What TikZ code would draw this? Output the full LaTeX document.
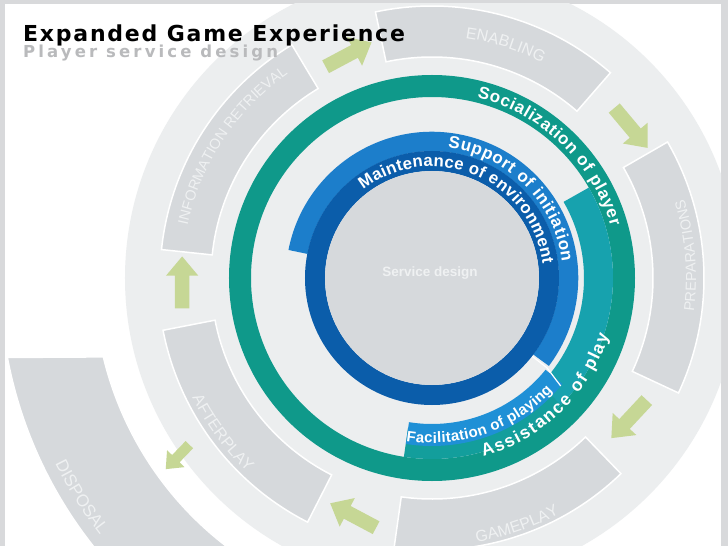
\documentclass[tikz,border=0pt]{standalone}
\usepackage{fontspec}
\setmainfont{Liberation Sans}
\newfontfamily\titlefont[LetterSpace=8]{DejaVu Sans}
\newfontfamily\subtitlefont[LetterSpace=19]{DejaVu Sans}
\usetikzlibrary{shapes.arrows, decorations.text}

\definecolor{framegray}{HTML}{D8D9DB}
\definecolor{pale}{HTML}{ECEEEF}
\definecolor{boxgray}{HTML}{D6D9DC}
\definecolor{segtext}{HTML}{EFF1F2}
\definecolor{tealring}{HTML}{0F998A}
\definecolor{cyanband}{HTML}{17A2AE}
\definecolor{cyanlow}{HTML}{139E9C}
\definecolor{midblue}{HTML}{1C7ECB}
\definecolor{facblue}{HTML}{1F90D6}
\definecolor{darkblue}{HTML}{0B5DAA}
\definecolor{arrowgreen}{HTML}{C6D795}
\definecolor{subgray}{HTML}{B9BABC}

\begin{document}
\begin{tikzpicture}[x=1pt, y=1pt,
        segment/.style={fill=boxgray, draw=white, line width=1.5pt},
        garrow/.style={single arrow, fill=arrowgreen, inner sep=7pt, minimum height=52pt, single arrow head extend=9pt, single arrow tip angle=80},
        ringtext/.style={decorate, decoration={text along path, text align=fit to path, text color=white}},
        seglabel/.style={decorate, decoration={text along path, text align=center, text color=segtext}}]

        \useasboundingbox (-432,-268) rectangle (296,278);
        \fill[framegray] (-432,-268) rectangle (296,278);
        \fill[white] (-427,-268) rectangle (289,274);

        \begin{scope}
        \clip (-427,-268) rectangle (289,274);
        % outer ring of phases
        \fill[pale] (0,0) circle[radius=307];
        \draw[segment] (193.5:338) arc[start angle=193.5, end angle=240, radius=338] -- (240:432) arc[start angle=240, end angle=190.6, radius=432] -- cycle;
        \draw[segment] (49:221) arc[start angle=49, end angle=102, radius=221] -- (102:272) arc[start angle=102, end angle=49, radius=272] -- cycle;
        \draw[segment] (121:221) arc[start angle=121, end angle=174, radius=221] -- (174:272) arc[start angle=174, end angle=121, radius=272] -- cycle;
        \draw[segment] (-25:221) arc[start angle=-25, end angle=30, radius=221] -- (30:272) arc[start angle=30, end angle=-25, radius=272] -- cycle;
        \draw[segment] (-98:221) arc[start angle=-98, end angle=-46, radius=221] -- (-46:272) arc[start angle=-46, end angle=-98, radius=272] -- cycle;
        \draw[segment] (-169:221) arc[start angle=-169, end angle=-117, radius=221] -- (-117:274) arc[start angle=-117, end angle=-169, radius=274] -- cycle;

        \path[seglabel, decoration={text={|\fontsize{16}{16}\selectfont|ENABLING}}] (100:242) arc[start angle=100, end angle=45, radius=242];
        \path[seglabel, decoration={text={|\fontsize{14.5}{14.5}\selectfont|INFORMATION RETRIEVAL}}] (178:250) arc[start angle=178, end angle=115, radius=250];
        \path[seglabel, decoration={text={|\fontsize{14.5}{14.5}\selectfont|PREPARATIONS}}] (-30:264) arc[start angle=-30, end angle=40, radius=264];
        \path[seglabel, decoration={text={|\fontsize{16}{16}\selectfont|GAMEPLAY}}] (-101:268) arc[start angle=-101, end angle=-41, radius=268];
        \path[seglabel, decoration={text={|\fontsize{16}{16}\selectfont|AFTERPLAY}}] (-173:268) arc[start angle=-173, end angle=-114, radius=268];
        \path[seglabel, decoration={text={|\fontsize{17}{17}\selectfont|DISPOSAL}}] (-168:420) arc[start angle=-168, end angle=-128, radius=420];

        \node[garrow, rotate=28] (toenabling) at (111.5:238) {};
        \node[garrow, rotate=-50] (toprep) at (38:249) {};
        \node[garrow, rotate=-133] (togameplay) at (-34.6:243) {};
        \node[garrow, rotate=152] (toafterplay) at (-107.4:251) {};
        \node[garrow, rotate=90] (toinfo) at (-178:250) {};
        \node[garrow, rotate=-134, minimum height=34pt, inner sep=5pt, single arrow head extend=7pt] (todisposal) at (-145:308) {};
        \end{scope}

        % service rings
        \draw[tealring, line width=22pt] (0,0) circle[radius=192];
        \draw[cyanband, line width=29pt] (30:166.5) arc[start angle=30, end angle=-45, radius=166.5];
        \draw[cyanlow, line width=29pt] (-44.5:166.5) arc[start angle=-44.5, end angle=-99, radius=166.5];
        \draw[midblue, line width=19.5pt] (169:136.5) arc[start angle=169, end angle=-37, radius=136.5];
        \draw[facblue, line width=22pt] (-39:157) arc[start angle=-39, end angle=-99, radius=157];
        \draw[white, line width=1.2pt] (-38:127) -- (-38:146) -- (-40:168);
        \draw[darkblue, line width=20pt] (0,0) circle[radius=117];
        \fill[boxgray] (0,0) circle[radius=107];
        \node[text=segtext, font=\bfseries\fontsize{13.5}{13.5}\selectfont] (core) at (-2,5) {Service design};

        \path[ringtext, decoration={text={|\fontsize{17}{17}\bfseries|Socialization of player}}] (76:186) arc[start angle=76, end angle=16, radius=186];
        \path[ringtext, decoration={text={|\fontsize{17}{17}\bfseries|Support of initiation}}] (83:131) arc[start angle=83, end angle=7, radius=131];
        \path[ringtext, decoration={text={|\fontsize{16.8}{16.8}\bfseries|Maintenance of environment}}] (128:111.5) arc[start angle=128, end angle=7, radius=111.5];
        \path[ringtext, decoration={text={|\fontsize{15}{15}\bfseries|Facilitation of playing}}] (-99:165) arc[start angle=-99, end angle=-43, radius=165];
        \path[ringtext, decoration={text={|\fontsize{17.5}{17.5}\bfseries|Assistance of play}}] (-74:186) arc[start angle=-74, end angle=-18, radius=186];

        % heading
        \node[anchor=base west, inner sep=0pt, text=subgray, font=\subtitlefont\bfseries\fontsize{16.5}{16.5}\selectfont] (subtitle) at (-409,220) {Player service design};
        \node[anchor=base west, inner sep=0pt, font=\titlefont\bfseries\fontsize{22}{22}\selectfont] (title) at (-409,236) {Expanded Game Experience};

    \end{tikzpicture}
\end{document}
